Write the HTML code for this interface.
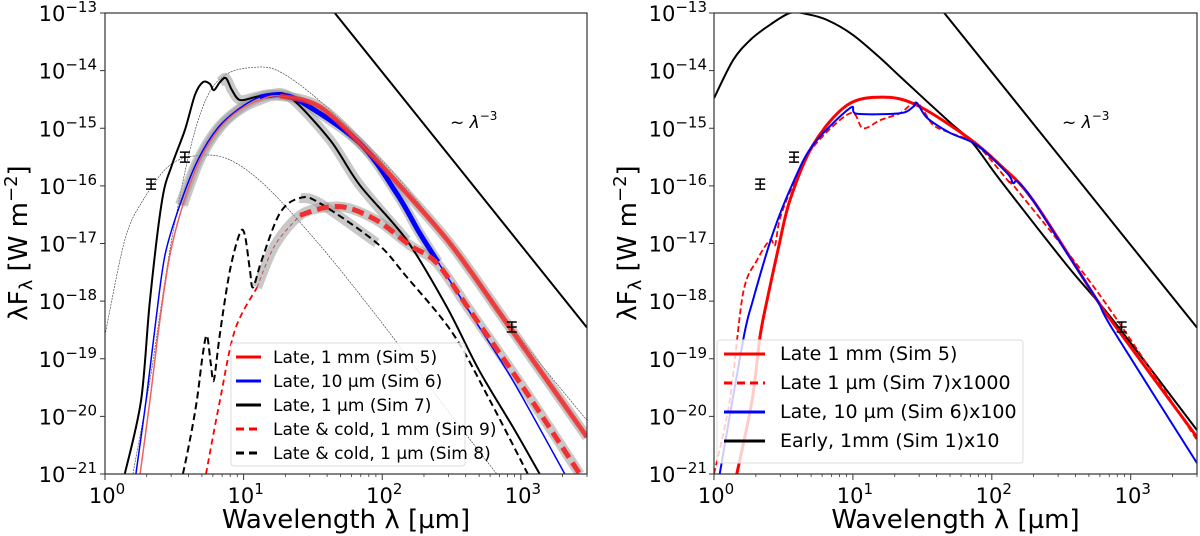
<!DOCTYPE html>
<html><head><meta charset="utf-8"><style>
html,body{margin:0;padding:0;background:#fff;}
svg{display:block;font-family:"DejaVu Sans","Liberation Sans",sans-serif;}
</style></head><body>
<svg id="fig" width="1200" height="536" viewBox="0 0 1200 536" xmlns="http://www.w3.org/2000/svg"></svg>
<script>
// ---- data: [wavelength (um), log10 flux] ----
const sim7Left = [[1.39,-21],[1.82,-19.72],[2.11,-17.98],[2.58,-16.25],[3.04,-15.64],[3.77,-15.03],[4.46,-14.42],[5.09,-14.2],[5.71,-14.23],[6.1,-14.34],[6.75,-14.2],[7.45,-14.13],[8.24,-14.34],[9.4,-14.51],[12.1,-14.46],[15.5,-14.41],[21.6,-14.46],[41.9,-15.2],[69,-15.99],[150,-16.94],[292,-18.1],[500,-19.2],[904,-20.24],[1368,-21]];
const sim5Left = [[1.79,-21],[2.11,-19.72],[2.49,-18.33],[2.94,-17.2],[3.65,-16.33],[4.84,-15.55],[6.75,-14.99],[9.4,-14.68],[13.1,-14.51],[18.3,-14.44],[35.5,-14.63],[81,-15.43],[150,-16.13],[323,-17.06],[790,-18.38],[3000,-20.36]];
const sim6Left = [[1.67,-21],[1.98,-19.72],[2.33,-18.33],[2.71,-17.2],[3.47,-16.33],[4.68,-15.55],[6.53,-14.99],[9.4,-14.65],[13.1,-14.46],[18.3,-14.42],[26.8,-14.56],[68.9,-15.26],[127,-16.13],[186,-16.82],[252,-17.32],[465,-18.33],[872,-19.37],[2075,-21]];
const sim9Left = [[5.35,-21],[6.75,-19.72],[8.66,-18.5],[12.5,-17.76],[16.8,-17.03],[25.5,-16.51],[39.9,-16.37],[58,-16.39],[96,-16.63],[158,-17.03],[248,-17.34],[428,-18.16],[1032,-19.49],[2660,-21]];
const sim8Left = [[3.65,-21],[4.1,-20.41],[4.6,-19.72],[5.09,-18.9],[5.44,-18.6],[5.81,-19.1],[6.1,-19.37],[6.75,-18.56],[7.97,-17.46],[9.4,-16.82],[10.2,-16.85],[11.1,-17.46],[11.7,-17.76],[13.5,-17.29],[18.3,-16.47],[25.5,-16.21],[35.5,-16.3],[91,-16.99],[150,-17.58],[323,-18.56],[597,-19.72],[1122,-21]];
const bbHot = [[1.59,-21],[2.11,-19.37],[2.94,-17.11],[4.1,-15.38],[5.44,-14.46],[7.33,-14.08],[11.1,-13.95],[18.3,-14.02],[41.9,-14.68],[134,-15.9],[428,-17.46],[1159,-18.85],[3000,-20.07]];
const bbStar = [[1,-18.59],[1.39,-16.94],[1.88,-16.25],[2.94,-15.64],[4.84,-15.47],[7.97,-15.55],[14.7,-16.02],[35.5,-17.03],[96,-18.33],[260,-19.72],[670,-21]];
const powerLaw = [[45.5,-13],[3000,-18.46]];
const obsLam = [2.15,3.77,860];
const obsFlux = [-15.97,-15.5,-18.45];

const sim5Right = [[1.46,-21],[1.88,-19.72],[2.14,-18.63],[2.41,-17.98],[2.89,-17.11],[3.52,-16.25],[5.16,-15.29],[9.07,-14.6],[16.5,-14.46],[28.9,-14.6],[66.3,-15.15],[115,-15.64],[198,-16.25],[572,-17.98],[746,-18.38],[3000,-20.36]];
const sim6Right = [[1.1,-21],[1.62,-18.68],[1.91,-17.98],[2.66,-16.82],[3.7,-15.95],[5.16,-15.29],[9.53,-14.65],[10.7,-14.75],[21.8,-14.74],[27.1,-14.63],[28.9,-14.56],[34.2,-14.82],[50,-15.08],[78,-15.29],[129,-15.78],[142,-15.95],[154,-15.93],[198,-16.25],[348,-17.17],[572,-17.98],[746,-18.5],[3000,-20.81]];
const sim7Right = [[1,-21],[1.3,-19.72],[1.62,-17.86],[2.04,-17.29],[2.53,-16.94],[2.75,-17.03],[2.99,-16.56],[3.7,-15.99],[5.16,-15.33],[9.53,-14.74],[11.8,-15.0],[15.7,-14.86],[21.8,-14.74],[28.9,-14.56],[37.7,-14.94],[50,-15.08],[78,-15.29],[135,-15.95],[152,-16.07],[601,-17.9],[3000,-20.41]];
const sim1Right = [[1,-14.48],[1.37,-13.82],[1.82,-13.47],[2.41,-13.24],[3.52,-13],[4.68,-13.02],[6.5,-13.12],[10,-13.38],[15.7,-13.78],[21.8,-14.1],[34,-14.53],[50,-14.9],[73,-15.26],[115,-15.9],[348,-17.38],[746,-18.33],[3000,-20.24]];
const yTicks = [-13,-14,-15,-16,-17,-18,-19,-20,-21];
const xTicks = [0,1,2,3];

const NS="http://www.w3.org/2000/svg";
const svg=document.getElementById('fig');
function mk(tag,attrs,parent){const e=document.createElementNS(NS,tag);for(const k in attrs)e.setAttribute(k,attrs[k]);(parent||svg).appendChild(e);return e;}

function makePanel(x0,x1,name){
  const y0=13,y1=474;
  const sx=l=>x0+Math.log10(l)/Math.log10(3000)*(x1-x0);
  const sy=f=>y0+(-13-f)/8*(y1-y0);
  const g=mk('g',{});
  
  
  const defs=mk('clipPath',{id:'clip-'+name},g);
  mk('rect',{x:x0,y:y0,width:x1-x0,height:y1-y0},defs);
  const plot=mk('g',{'clip-path':'url(#clip-'+name+')'},g);
  return {g,plot,sx,sy,x0,x1,y0,y1};
}
function pathD(P,data,lo,hi){
  lo=lo||0;hi=hi||1e9;
  const p=data.filter(d=>d[0]>=lo&&d[0]<=hi).map(d=>[P.sx(d[0]),P.sy(d[1])]);
  let s='M'+p[0][0].toFixed(1)+','+p[0][1].toFixed(1);
  const t=0.16;
  for(let i=0;i<p.length-1;i++){
    const a=p[i-1]||p[i],b=p[i],c=p[i+1],d=p[i+2]||c;
    const c1=[b[0]+(c[0]-a[0])*t,b[1]+(c[1]-a[1])*t];
    const c2=[c[0]-(d[0]-b[0])*t,c[1]-(d[1]-b[1])*t];
    s+=`C${c1[0].toFixed(1)},${c1[1].toFixed(1)} ${c2[0].toFixed(1)},${c2[1].toFixed(1)} ${c[0].toFixed(1)},${c[1].toFixed(1)}`;
  }
  return s;
}
function line(P,data,st,nm,lo,hi){
  const e=mk('path',Object.assign({d:pathD(P,data,lo,hi),fill:'none','stroke-linejoin':'round','stroke-linecap':'butt'},st),P.plot);
  
  
  return e;
}
function errs(P,nm){
  obsLam.forEach((l,i)=>{
    const x=P.sx(l),y=P.sy(obsFlux[i]);
    const e=mk('path',{d:`M${x},${y-5}V${y+5}M${x-5},${y-5}H${x+5}M${x-5},${y+5}H${x+5}M${x-5},${y}H${x+5}`,stroke:'#000','stroke-width':1.5,fill:'none'},P.plot);
    
    
  });
}
function axes(P,lx){
  const g=P.g;
  yTicks.forEach(t=>{
    const y=P.sy(t);
    mk('line',{x1:P.x0-5,x2:P.x0,y1:y,y2:y,stroke:'#333','stroke-width':1},g);
    for(let m=2;m<10;m++){const yy=P.sy(t+Math.log10(m));if(t>-13)mk('line',{x1:P.x0,x2:P.x0+3,y1:yy,y2:yy,stroke:'#333','stroke-width':0.8},g);}
    const tx=mk('text',{x:lx,y:y+8,'font-size':21,'text-anchor':'end',fill:'#000'},g);
    
    
    tx.innerHTML='10<tspan dy="-9" font-size="15">−'+(-t)+'</tspan>';
  });
  xTicks.forEach(t=>{
    const x=P.sx(Math.pow(10,t));
    mk('line',{x1:x,x2:x,y1:P.y1,y2:P.y1+6,stroke:'#333','stroke-width':1},g);
    for(let m=2;m<10;m++){const v=Math.pow(10,t)*m;if(v<=3000){const xx=P.sx(v);mk('line',{x1:xx,x2:xx,y1:P.y1,y2:P.y1+3,stroke:'#333','stroke-width':0.8},g);}}
    const tx=mk('text',{x:x+2,y:P.y1+29,'font-size':21,'text-anchor':'middle',fill:'#000'},g);
    
    
    tx.innerHTML='10<tspan dy="-9" font-size="15">'+t+'</tspan>';
  });
  const fr=mk('rect',{x:P.x0,y:P.y0,width:P.x1-P.x0,height:P.y1-P.y0,fill:'none',stroke:'#333','stroke-width':1.2},g);
  
  
  const xl=mk('text',{x:(P.x0+P.x1)/2,y:528,'font-size':26,'text-anchor':'middle',fill:'#000'},g);
  
  
  xl.textContent='Wavelength λ [µm]';
  const yl=mk('text',{x:0,y:0,'font-size':26,'text-anchor':'middle',fill:'#000',transform:`translate(${P.x0-78},243) rotate(-90)`},g);
  
  
  yl.innerHTML='λF<tspan dy="5" font-size="18">λ</tspan><tspan dy="-5"> [W m</tspan><tspan dy="-10" font-size="18">−2</tspan><tspan dy="10">]</tspan>';
}
function legend(P,x,y,w,h,rows,fs,gap,lx0,lx1,tx){
  const lg=mk('g',{},P.g);
  
  
  mk('rect',{x,y,width:w,height:h,rx:3,fill:'#fff','fill-opacity':0.8,stroke:'#ddd'},lg);
  rows.forEach((r,i)=>{
    const yy=y+14+i*gap;
    const e=mk('g',{},lg);
    
    
    mk('line',Object.assign({x1:lx0,x2:lx1,y1:yy,y2:yy,'stroke-width':3},r.st),e);
    const t=mk('text',{x:tx,y:yy+6,'font-size':fs,fill:'#000'},e);
    t.textContent=r.label;
  });
}

// ---- left panel ----
const L=makePanel(105,587,'left-panel');
const grey={stroke:'#9a9a9a','stroke-width':10,'stroke-opacity':0.55};
line(L,bbHot,{stroke:'#333','stroke-width':0.6,'stroke-dasharray':'2,1'},'blackbody-warm');
line(L,bbStar,{stroke:'#333','stroke-width':0.6,'stroke-dasharray':'2,1'},'blackbody-star');
line(L,sim5Left,grey,'band-sim5',3.5);
line(L,sim6Left,grey,'band-sim6',3.4,260);
line(L,sim7Left,grey,'band-sim7',6.7,170);
line(L,sim9Left,grey,'band-sim9',12,3000);
line(L,sim8Left,grey,'band-sim8',25,95);
line(L,sim8Left,{stroke:'#000','stroke-width':2,'stroke-dasharray':'7,4'},'line-sim8');
line(L,sim7Left,{stroke:'#000','stroke-width':2},'line-sim7');
line(L,sim6Left,{stroke:'#00f','stroke-width':1.5},'line-sim6');
line(L,sim6Left,{stroke:'#00f','stroke-width':5},'line-sim6-thick',12,255);
line(L,sim5Left,{stroke:'#f06060','stroke-width':1.5},'line-sim5');
line(L,sim5Left,{stroke:'#ee3030','stroke-width':5,'stroke-opacity':0.85},'line-sim5-thick',18);
line(L,sim9Left,{stroke:'#f00','stroke-width':1.8,'stroke-dasharray':'6,4'},'line-sim9',0,12.6);
line(L,sim9Left,{stroke:'#f03030','stroke-width':5,'stroke-dasharray':'12,6'},'line-sim9-thick',25);
line(L,sim9Left,{stroke:'#c05050','stroke-width':1,'stroke-dasharray':'4,3'},'line-sim9-inner',12,30);
line(L,powerLaw,{stroke:'#000','stroke-width':2},'power-law-line');
errs(L,'observed');
const pl=mk('text',{x:450,y:128,'font-size':17,fill:'#000'},L.g);


pl.innerHTML='~ <tspan font-style="italic">λ</tspan><tspan dy="-8" font-size="12">−3</tspan>';
axes(L,97);
legend(L,231,343,234,123,[
 {label:'Late,  1 mm (Sim 5)',st:{stroke:'#f00'}},
 {label:'Late,  10 µm (Sim 6)',st:{stroke:'#00f'}},
 {label:'Late,  1 µm (Sim 7)',st:{stroke:'#000'}},
 {label:'Late & cold,  1 mm (Sim 9)',st:{stroke:'#f00','stroke-dasharray':'8,5'}},
 {label:'Late & cold,  1 µm (Sim 8)',st:{stroke:'#000','stroke-dasharray':'8,5'}}],17,24,236,261,273);

// ---- right panel ----
const R=makePanel(714,1197,'right-panel');
line(R,sim1Right,{stroke:'#000','stroke-width':2},'line-sim1');
line(R,sim5Right,{stroke:'#f00','stroke-width':3},'line-sim5');
line(R,sim7Right,{stroke:'#f00','stroke-width':1.8,'stroke-dasharray':'6,3'},'line-sim7');
line(R,sim6Right,{stroke:'#00f','stroke-width':2},'line-sim6');
line(R,powerLaw,{stroke:'#000','stroke-width':2},'power-law-line');
errs(R,'observed');
const pr=mk('text',{x:1062,y:128,'font-size':17,fill:'#000'},R.g);


pr.innerHTML='~ <tspan font-style="italic">λ</tspan><tspan dy="-8" font-size="12">−3</tspan>';
axes(R,707);
legend(R,717,340,306,123,[
 {label:'Late 1 mm (Sim 5)',st:{stroke:'#f00'}},
 {label:'Late 1 µm (Sim 7)x1000',st:{stroke:'#f00','stroke-dasharray':'8,5'}},
 {label:'Late,  10 µm (Sim 6)x100',st:{stroke:'#00f'}},
 {label:'Early,  1mm (Sim 1)x10',st:{stroke:'#000'}}],19,29,724,765,780);
</script>
</body></html>
